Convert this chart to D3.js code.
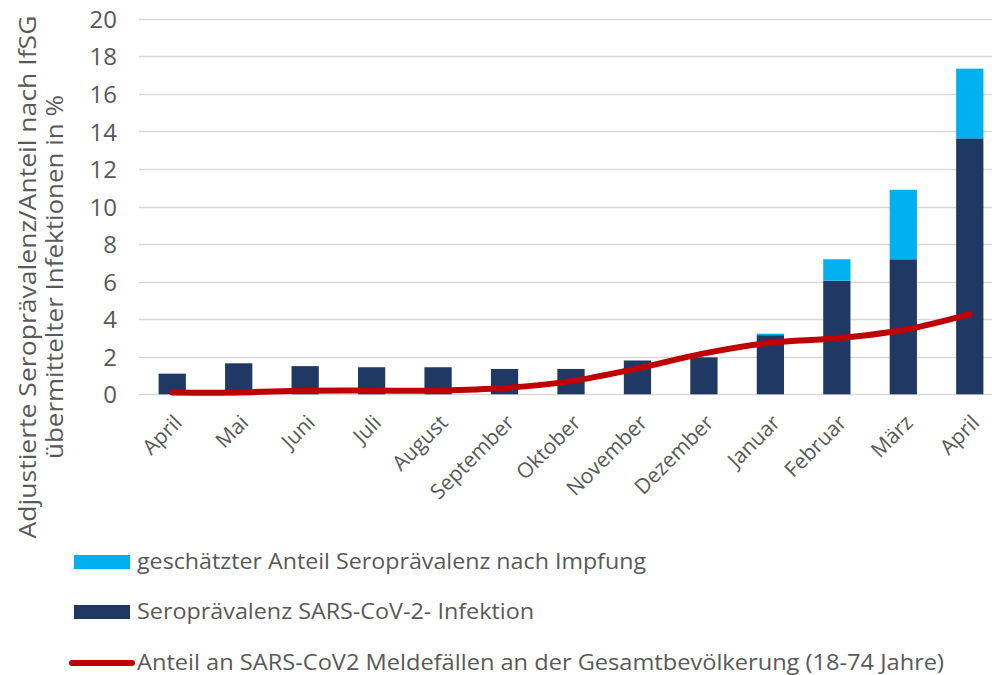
<!DOCTYPE html>
<html>
<head>
<meta charset="utf-8">
<script src="https://cdn.jsdelivr.net/npm/d3@7"></script>
<style>
  html, body { margin: 0; padding: 0; background: #fff; }
  svg { display: block; font-family: "Open Sans", "Noto Sans", sans-serif; }
</style>
</head>
<body>
<svg id="chart" width="992" height="675"></svg>
<script>
const months = ["April", "Mai", "Juni", "Juli", "August", "September", "Oktober",
  "November", "Dezember", "Januar", "Februar", "März", "April"];
const infektion = [1.1, 1.65, 1.5, 1.44, 1.44, 1.35, 1.35, 1.8, 1.97, 3.15, 6.05, 7.19, 13.63];
const impfung   = [0, 0, 0, 0, 0, 0, 0, 0, 0, 0.08, 1.14, 3.7, 3.71];
const meldefaelle = [0.09, 0.1, 0.19, 0.2, 0.2, 0.33, 0.7, 1.38, 2.18, 2.75, 2.98, 3.42, 4.27];
const yTicks = [0, 2, 4, 6, 8, 10, 12, 14, 16, 18, 20];
const legendLabels = [
  "geschätzter Anteil Seroprävalenz nach Impfung",
  "Seroprävalenz SARS-CoV-2- Infektion",
  "Anteil an SARS-CoV2 Meldefällen an der Gesamtbevölkerung (18-74 Jahre)"
];
const yTitle = ["Adjustierte Seroprävalenz/Anteil nach IfSG", "übermittelter Infektionen in %"];

const colDark = "#1F3864", colLight = "#00B0F0", colRed = "#C00000", textCol = "#595959";

const svg = d3.select("#chart");
const idx = months.map((d, i) => i);
const x = d3.scaleBand().domain(idx).range([139, 1003]).paddingInner(0.59).paddingOuter(0.295);
const y = d3.scaleLinear().domain([0, 20]).range([394.3, 18.7]);

// gridlines
svg.append("g").selectAll("line").data(yTicks).join("line")
  .attr("x1", 139).attr("x2", 1003)
  .attr("y1", d => Math.round(y(d)) + 0.5).attr("y2", d => Math.round(y(d)) + 0.5)
  .attr("stroke", "#D9D9D9").attr("stroke-width", 1.3);

// y axis labels
const yAxis = d3.axisLeft(y).tickValues(yTicks).tickSize(0).tickPadding(0);
const gy = svg.append("g").attr("transform", "translate(117,0)").call(yAxis);
gy.select(".domain").remove();
gy.selectAll("text").attr("fill", textCol).attr("font-size", 24).attr("font-family", "Open Sans")
  .attr("dy", "0.36em");

// stacked bars
const stackData = idx.map(i => ({ i, inf: infektion[i], imp: impfung[i] }));
const stack = d3.stack().keys(["inf", "imp"])(stackData);
const colors = { inf: colDark, imp: colLight };
svg.append("g").selectAll("g").data(stack).join("g")
  .attr("fill", s => colors[s.key])
  .selectAll("rect").data(s => s.filter(d => d[1] - d[0] > 0)).join("rect")
  .attr("x", d => x(d.data.i)).attr("width", x.bandwidth())
  .attr("y", d => y(d[1])).attr("height", d => y(d[0]) - y(d[1]));

// line
const line = d3.line().x((d, i) => x(i) + x.bandwidth() / 2).y(d => y(d))
  .curve(d3.curveCatmullRom.alpha(0));
svg.append("path").datum(meldefaelle).attr("d", line)
  .attr("fill", "none").attr("stroke", colRed).attr("stroke-width", 6)
  .attr("stroke-linecap", "round").attr("stroke-linejoin", "round");

// x axis labels
const xAxis = d3.axisBottom(x).tickFormat(i => months[i]).tickSize(0).tickPadding(0);
const gx = svg.append("g").attr("transform", "translate(0,394)").call(xAxis);
gx.select(".domain").remove();
gx.selectAll("text")
  .attr("fill", textCol).attr("font-size", 21).attr("font-family", "Open Sans")
  .attr("text-anchor", "end").attr("dy", null).attr("y", null)
  .attr("transform", "translate(11,30) rotate(-45)");

// y axis title
const titleLen = [523, 364];
const gt = svg.append("g").attr("transform", "translate(0,277) rotate(-90)");
gt.selectAll("text").data(yTitle).join("text")
  .attr("x", 0).attr("y", (d, i) => 36 + i * 27)
  .attr("text-anchor", "middle").attr("fill", textCol)
  .attr("font-size", 23).attr("font-family", "Open Sans")
  .attr("textLength", (d, i) => titleLen[i]).attr("lengthAdjust", "spacingAndGlyphs")
  .text(d => d);

// legend
const lg = svg.append("g");
const rowsY = [562, 612, 663];
const legLen = [509, 397, 807];
lg.append("rect").attr("x", 74).attr("y", rowsY[0] - 7).attr("width", 56).attr("height", 14).attr("fill", colLight);
lg.append("rect").attr("x", 74).attr("y", rowsY[1] - 7).attr("width", 56).attr("height", 14).attr("fill", colDark);
lg.append("line").attr("x1", 72).attr("x2", 132).attr("y1", rowsY[2]).attr("y2", rowsY[2])
  .attr("stroke", colRed).attr("stroke-width", 6).attr("stroke-linecap", "round");
lg.selectAll("text").data(legendLabels).join("text")
  .attr("x", 137).attr("y", (d, i) => rowsY[i]).attr("dy", "0.35em")
  .attr("fill", textCol).attr("font-size", 21).attr("font-family", "Open Sans")
  .attr("textLength", (d, i) => legLen[i]).attr("lengthAdjust", "spacingAndGlyphs")
  .text(d => d);
</script>
</body>
</html>
